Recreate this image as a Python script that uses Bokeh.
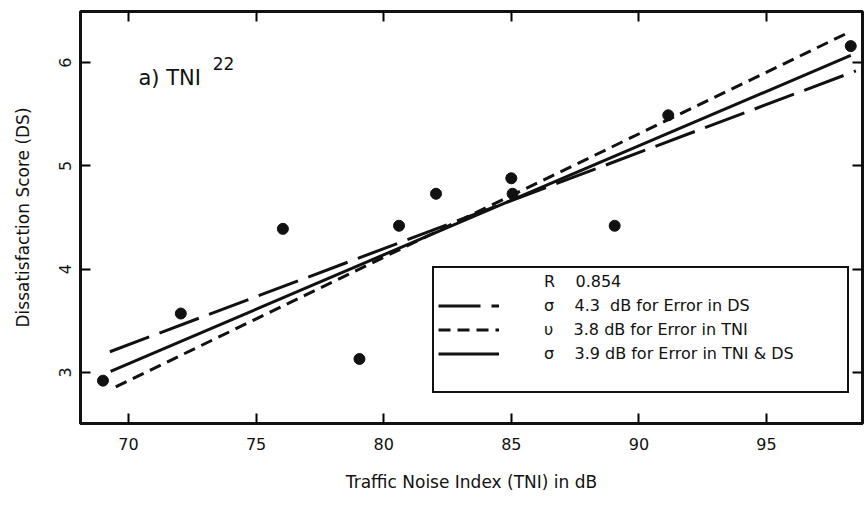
from bokeh.plotting import figure
from bokeh.models import (Range1d, LinearAxis, FixedTicker, Legend, LegendItem, Label)
from bokeh.embed import file_html
from bokeh.resources import INLINE

# ---- data ----
tni = [69.0, 72.05, 76.05, 79.05, 80.6, 82.05, 85.0, 85.05, 89.05, 91.15, 98.3]
ds = [2.92, 3.57, 4.39, 3.13, 4.42, 4.73, 4.88, 4.73, 4.42, 5.49, 6.16]

fit_ds_x = [69.27, 98.5]          # sigma 4.3 dB, error in DS (long dash)
fit_ds_y = [3.20, 5.92]
fit_tni_x = [69.5, 98.2]          # sigma 3.8 dB, error in TNI (short dash)
fit_tni_y = [2.86, 6.29]
fit_both_x = [69.3, 98.3]         # sigma 3.9 dB, error in TNI & DS (solid)
fit_both_y = [3.01, 6.07]

x_ticks = [70, 75, 80, 85, 90, 95]
y_ticks = [3, 4, 5, 6]

legend_labels = ["R    0.854",
                 "σ    4.3  dB for Error in DS",
                 "υ    3.8 dB for Error in TNI",
                 "σ    3.9 dB for Error in TNI & DS",
                 ""]

FONT = "DejaVu Sans"
INK = "#111111"

p = figure(width=864, height=510, output_backend="svg", toolbar_location=None,
           x_range=Range1d(68.12, 98.76), y_range=Range1d(2.505, 6.495),
           min_border_left=80, min_border_right=2, min_border_top=11,
           min_border_bottom=87)
p.background_fill_color = "white"
p.border_fill_color = "white"
p.grid.visible = False
p.outline_line_color = INK
p.outline_line_width = 3

# bottom axis
xa = p.xaxis[0]
xa.ticker = FixedTicker(ticks=x_ticks)
xa.axis_line_width = 3
xa.axis_line_color = INK
xa.major_tick_in = 10
xa.major_tick_out = 0
xa.major_tick_line_width = 2
xa.minor_tick_line_color = None
xa.major_label_text_font = FONT
xa.major_label_text_font_size = "16px"
xa.major_label_text_color = INK
xa.major_label_standoff = 14
xa.axis_label = "Traffic Noise Index (TNI) in dB"
xa.axis_label_text_font = FONT
xa.axis_label_text_font_size = "17px"
xa.axis_label_text_font_style = "normal"
xa.axis_label_text_color = INK
xa.axis_label_standoff = 19

# left axis
ya = p.yaxis[0]
ya.ticker = FixedTicker(ticks=y_ticks)
ya.axis_line_width = 3
ya.axis_line_color = INK
ya.major_tick_in = 10
ya.major_tick_out = 0
ya.major_tick_line_width = 2
ya.minor_tick_line_color = None
ya.major_label_orientation = "vertical"
ya.major_label_text_font = FONT
ya.major_label_text_font_size = "16px"
ya.major_label_text_color = INK
ya.major_label_standoff = 9
ya.axis_label = "Dissatisfaction Score (DS)"
ya.axis_label_text_font = FONT
ya.axis_label_text_font_size = "17px"
ya.axis_label_text_font_style = "normal"
ya.axis_label_text_color = INK
ya.axis_label_standoff = 24

# top and right axes: inward ticks only, no labels
top = LinearAxis(ticker=FixedTicker(ticks=x_ticks), axis_line_alpha=0,
                 major_tick_in=10, major_tick_out=0, major_tick_line_width=2,
                 minor_tick_line_color=None,
                 major_label_overrides={t: "" for t in x_ticks},
                 major_label_standoff=0)
right = LinearAxis(ticker=FixedTicker(ticks=y_ticks), axis_line_alpha=0,
                   major_tick_in=10, major_tick_out=0, major_tick_line_width=2,
                   minor_tick_line_color=None,
                   major_label_overrides={t: "" for t in y_ticks},
                   major_label_standoff=0)
p.add_layout(top, "above")
p.add_layout(right, "right")

# fitted lines
r_ds = p.line(fit_ds_x, fit_ds_y, line_color=INK, line_width=3, line_dash="42 11")
r_tni = p.line(fit_tni_x, fit_tni_y, line_color=INK, line_width=3, line_dash="12 7")
r_both = p.line(fit_both_x, fit_both_y, line_color=INK, line_width=3)
r_none = p.line(fit_both_x, fit_both_y, line_alpha=0)

# data points
p.scatter(tni, ds, size=11, color=INK)

# annotation
p.add_layout(Label(x=70.39, y=5.855, text="a) TNI", text_font=FONT,
                   text_font_size="21px", text_color=INK, text_baseline="middle"))
p.add_layout(Label(x=73.3, y=5.99, text="22", text_font=FONT,
                   text_font_size="17px", text_color=INK, text_baseline="middle"))

legend = Legend(items=[LegendItem(label=legend_labels[0], renderers=[r_none]),
                       LegendItem(label=legend_labels[1], renderers=[r_ds]),
                       LegendItem(label=legend_labels[2], renderers=[r_tni]),
                       LegendItem(label=legend_labels[3], renderers=[r_both]),
                       LegendItem(label=legend_labels[4], renderers=[r_none])],
                location=(352, 30), orientation="vertical",
                glyph_width=61, glyph_height=19, label_height=19, spacing=5,
                padding=4, margin=0, label_standoff=45, label_width=299,
                label_text_font=FONT, label_text_font_size="16px",
                label_text_color=INK,
                border_line_color=INK, border_line_width=2.5, border_line_alpha=1,
                background_fill_color="white", background_fill_alpha=1)
p.add_layout(legend, "center")

open("out.html", "w").write(file_html(p, INLINE))
